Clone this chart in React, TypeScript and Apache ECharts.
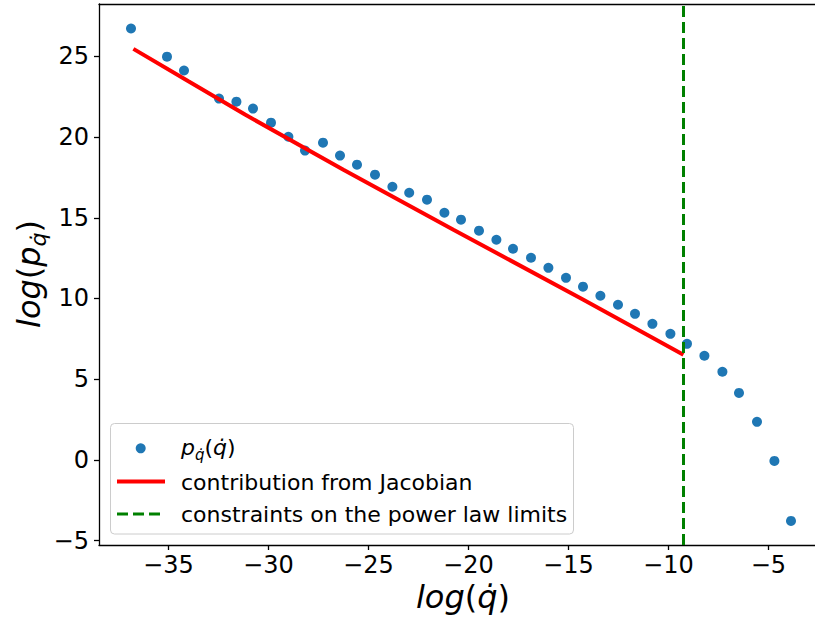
import React, { useEffect, useRef } from "react";
import * as echarts from "echarts";

// log(q̇) positions of the scatter points
const qdot = [-36.87, -35.07, -34.22, -32.47, -31.6, -30.77, -29.87, -29.0, -28.17, -27.27, -26.42, -25.57, -24.67, -23.8, -22.96, -22.07, -21.2, -20.37, -19.47, -18.6, -17.77, -16.87, -16.0, -15.12, -14.27, -13.4, -12.52, -11.67, -10.8, -9.9, -9.07, -8.2, -7.3, -6.47, -5.57, -4.7, -3.87];
// log(p_q̇) values of the scatter points
const logp = [26.72, 24.98, 24.12, 22.38, 22.19, 21.76, 20.89, 20.02, 19.16, 19.65, 18.85, 18.29, 17.67, 16.92, 16.55, 16.12, 15.31, 14.88, 14.2, 13.64, 13.08, 12.52, 11.9, 11.28, 10.73, 10.17, 9.61, 9.05, 8.43, 7.81, 7.19, 6.45, 5.46, 4.15, 2.36, -0.06, -3.78];
// contribution from Jacobian (red line)
const jacX = [-36.75, -34.0, -31.17, -26.25, -20.75, -14.25, -9.25];
const jacY = [25.46, 23.45, 21.39, 17.98, 14.26, 9.92, 6.51];
// power law limit (green dashed line)
const constraintX = -9.25;
// tick labels
const xTicks = [-35, -30, -25, -20, -15, -10, -5];
const yTicks = [-5, 0, 5, 10, 15, 20, 25];
// axis ranges
const xMin = -38.47;
const xMax = -2.67;
const yMin = -5.27;
const yMax = 28.24;

const FONT = "DejaVu Sans";
const fmt = (v: number) => String(v).replace("-", "\u2212");
const QD = "q\u0307";

export default function App() {
  const ref = useRef<HTMLDivElement>(null);
  useEffect(() => {
    if (!ref.current) return;
    const chart = echarts.init(ref.current, null, { renderer: "svg" });
    const axisCol = "#000";
    const richBase = (size: number, sub: number, lh: number) => ({
      i: { fontSize: size, fontStyle: "italic", fontFamily: FONT, lineHeight: lh, fill: "#000", color: "#000" },
      n: { fontSize: size, fontFamily: FONT, lineHeight: lh, color: "#000" },
      s: { fontSize: sub, fontStyle: "italic", fontFamily: FONT, lineHeight: sub, verticalAlign: "bottom", color: "#000" },
    });
    const option: any = {
      animation: false,
      backgroundColor: "#ffffff",
      grid: { left: 99, right: 0, top: 4, bottom: 75, containLabel: false, outerBoundsMode: "none" },
      xAxis: [
        {
          type: "value",
          min: xMin,
          max: xMax,
          position: "bottom",
          axisLine: { show: true, onZero: false, lineStyle: { color: axisCol, width: 1.3 } },
          axisTick: { show: true, customValues: xTicks, length: 5, lineStyle: { color: axisCol, width: 1.3 } },
          axisLabel: { customValues: xTicks, formatter: fmt, fontSize: 24, color: "#000", fontFamily: FONT, margin: 8 },
          splitLine: { show: false },
        },
        {
          type: "value",
          min: xMin,
          max: xMax,
          position: "top",
          axisLine: { show: true, onZero: false, lineStyle: { color: axisCol, width: 1.3 } },
          axisTick: { show: false },
          axisLabel: { show: false },
          splitLine: { show: false },
        },
      ],
      yAxis: {
        type: "value",
        min: yMin,
        max: yMax,
        axisLine: { show: true, onZero: false, lineStyle: { color: axisCol, width: 1.3 } },
        axisTick: { show: true, customValues: yTicks, length: 5, lineStyle: { color: axisCol, width: 1.3 } },
        axisLabel: { customValues: yTicks, formatter: fmt, fontSize: 24, color: "#000", fontFamily: FONT, margin: 10 },
        splitLine: { show: false },
      },
      series: [
        {
          type: "scatter",
          name: "p",
          data: qdot.map((x, i) => [x, logp[i]]),
          symbol: "circle",
          symbolSize: 10,
          itemStyle: { color: "#1f77b4", opacity: 1 },
          z: 2,
        },
        {
          type: "line",
          name: "contribution from Jacobian",
          data: jacX.map((x, i) => [x, jacY[i]]),
          showSymbol: false,
          symbol: "none",
          smooth: false,
          lineStyle: { color: "#ff0000", width: 4 },
          z: 3,
        },
        {
          type: "line",
          name: "constraints on the power law limits",
          data: [],
          z: 4,
          markLine: {
            silent: true,
            symbol: ["none", "none"],
            label: { show: false },
            lineStyle: { color: "#008000", width: 3, type: [11, 5] },
            data: [{ xAxis: constraintX }],
          },
        },
      ],
      graphic: [
        {
          type: "rect",
          z: 100,
          shape: { x: 110.5, y: 423.5, width: 463, height: 110.5, r: 4 },
          style: { fill: "rgba(255,255,255,0.8)", stroke: "#cccccc", lineWidth: 1 },
        },
        {
          type: "circle",
          z: 101,
          shape: { cx: 140.7, cy: 448.3, r: 5 },
          style: { fill: "#1f77b4" },
        },
        {
          type: "line",
          z: 101,
          shape: { x1: 117, y1: 481.5, x2: 165, y2: 481.5 },
          style: { stroke: "#ff0000", lineWidth: 4 },
        },
        {
          type: "line",
          z: 101,
          shape: { x1: 117, y1: 514, x2: 165, y2: 514 },
          style: { stroke: "#008000", lineWidth: 3, lineDash: [11, 5] },
        },
        {
          type: "text",
          z: 101,
          x: 181,
          y: 447,
          style: {
            text: "{i|p}{s|" + QD + "}{n|(}{i|" + QD + "}{n|)}",
            rich: richBase(22, 15, 30),
            align: "left",
            verticalAlign: "middle",
            fontFamily: FONT,
            fontSize: 22,
            fill: "#000",
          },
        },
        {
          type: "text",
          z: 101,
          x: 181,
          y: 482,
          style: { text: "contribution from Jacobian", fontFamily: FONT, fontSize: 22, fill: "#000", align: "left", verticalAlign: "middle" },
        },
        {
          type: "text",
          z: 101,
          x: 181,
          y: 514,
          style: { text: "constraints on the power law limits", fontFamily: FONT, fontSize: 22, fill: "#000", align: "left", verticalAlign: "middle" },
        },
        {
          type: "text",
          z: 101,
          x: 463,
          y: 597,
          style: {
            text: "{i|log}{n|(}{i|" + QD + "}{n|)}",
            rich: richBase(32, 22, 40),
            align: "center",
            verticalAlign: "middle",
            fontFamily: FONT,
            fontSize: 32,
            fill: "#000",
          },
        },
        {
          type: "text",
          z: 101,
          x: 29,
          y: 274,
          rotation: Math.PI / 2,
          style: {
            text: "{i|log}{n|(}{i|p}{s|" + QD + "}{n|)}",
            rich: richBase(32, 22, 40),
            align: "center",
            verticalAlign: "middle",
            fontFamily: FONT,
            fontSize: 32,
            fill: "#000",
          },
        },
      ],
    };
    chart.setOption(option);
    return () => chart.dispose();
  }, []);
  return <div ref={ref} style={{ position: "fixed", left: 0, top: 0, width: 815, height: 620 }} />;
}
